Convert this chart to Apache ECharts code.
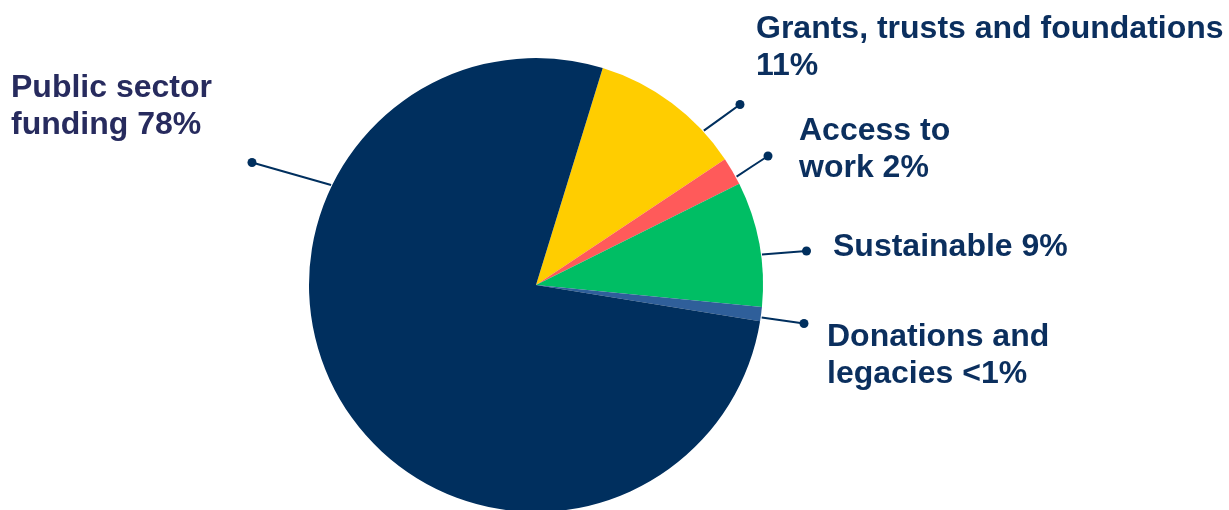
<!DOCTYPE html>
<html>
<head>
<meta charset="utf-8">
<script src="https://cdn.jsdelivr.net/npm/echarts@6/dist/echarts.min.js"></script>
<style>
html,body{margin:0;padding:0;background:#fff;}
#chart{width:1229px;height:510px;}
</style>
</head>
<body>
<div id="chart"></div>
<script>
// ---- data ----
const categories = ['Grants, trusts and foundations', 'Access to work', 'Sustainable', 'Donations and legacies', 'Public sector funding'];
const values = [10.9, 2.0, 8.9, 1.0, 77.2];
const labelTexts = ['Grants, trusts and foundations\n11%', 'Access to\nwork 2%', 'Sustainable 9%', 'Donations and\nlegacies <1%', 'Public sector\nfunding 78%'];

// ---- styles / layout ----
const colors = ['#FFCD00', '#FF5A5A', '#00BE64', '#2F5F9A', '#002F5E'];
const labelColors = ['#0B2F5E', '#0B2F5E', '#0B2F5E', '#0B2F5E', '#272B5E'];
const CX = 536, CY = 285, R = 227;
const layout = [
  { a: 42.6, dot: [740, 104.5], lab: [756, 11] },
  { a: 28.4, dot: [768, 156], lab: [799, 113] },
  { a: 7.7, dot: [806.5, 251], lab: [833, 229] },
  { a: -8.2, dot: [804, 323.5], lab: [827, 319] },
  { a: 154, dot: [252, 162.5], lab: [11, 70] }
];
function edge(a) {
  const r = R + 1;
  const t = a * Math.PI / 180;
  return [CX + r * Math.cos(t), CY - r * Math.sin(t)];
}

const chart = echarts.init(document.getElementById('chart'), null, { renderer: 'canvas' });
const data = categories.map((c, i) => ({
  name: c,
  value: values[i],
  itemStyle: { color: colors[i] },
  label: { color: labelColors[i] }
}));

chart.setOption({
  animation: false,
  backgroundColor: '#ffffff',
  series: [{
    type: 'pie',
    center: [CX, CY],
    radius: R,
    startAngle: 72.9,
    clockwise: true,
    avoidLabelOverlap: false,
    itemStyle: { borderWidth: 0 },
    data: data,
    label: {
      show: true,
      position: 'outside',
      formatter: p => labelTexts[p.dataIndex],
      fontFamily: 'Liberation Sans, Arial, sans-serif',
      fontWeight: 'bold',
      fontSize: 32,
      lineHeight: 37,
      align: 'left'
    },
    labelLine: {
      show: true,
      lineStyle: { color: '#002F5E', width: 2 }
    },
    labelLayout: function (params) {
      const L = layout[params.dataIndex];
      const e = edge(L.a);
      const m = [(e[0] + L.dot[0]) / 2, (e[1] + L.dot[1]) / 2];
      return {
        x: L.lab[0],
        y: L.lab[1],
        align: 'left',
        verticalAlign: 'top',
        labelLinePoints: [e, m, L.dot]
      };
    }
  }],
  graphic: layout.map(L => ({
    type: 'circle',
    shape: { cx: L.dot[0], cy: L.dot[1], r: 4.5 },
    style: { fill: '#002F5E' },
    z: 10
  }))
});
</script>
</body>
</html>
